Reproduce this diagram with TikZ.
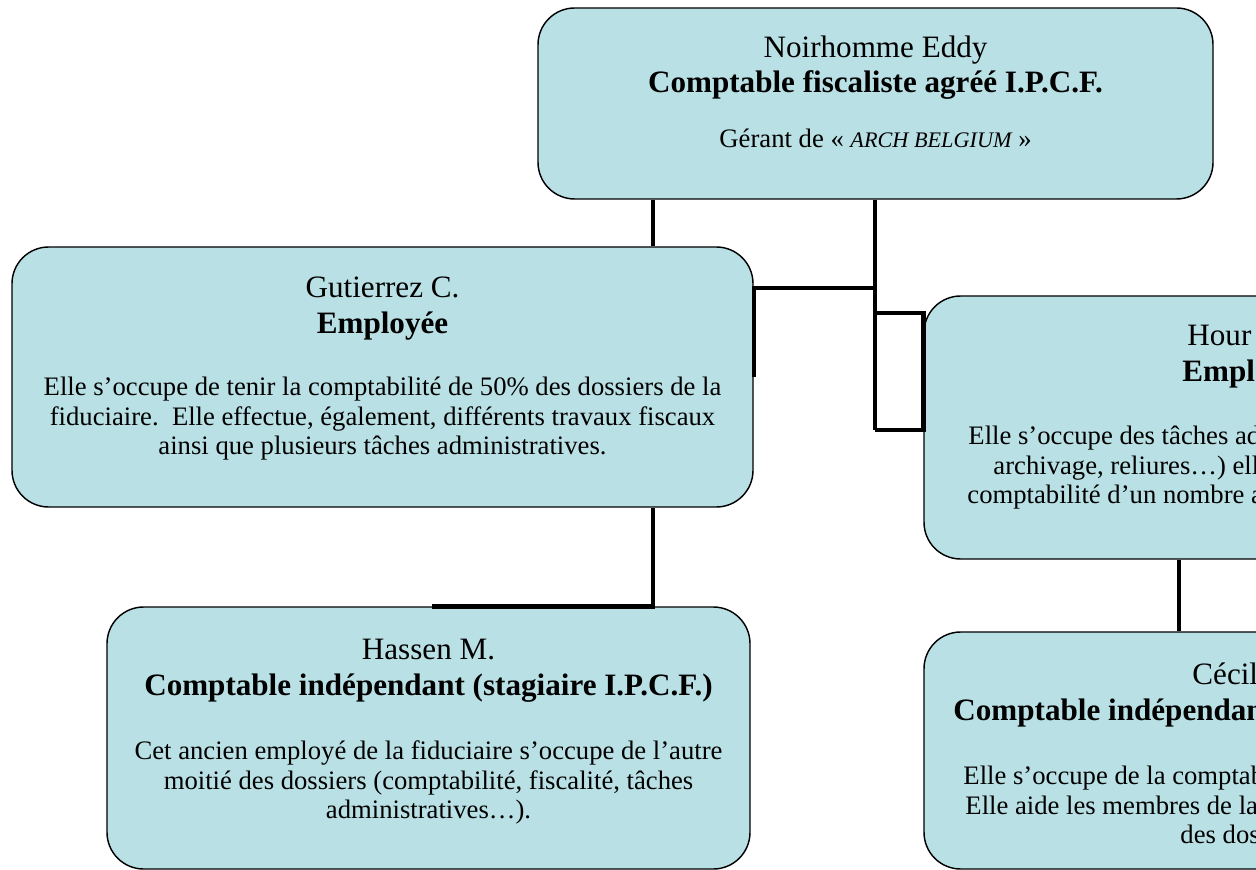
\documentclass[tikz,border=0pt]{standalone}
\usepackage{fontspec}
\setmainfont{Liberation Serif}
\usetikzlibrary{fit}
\definecolor{boxfill}{RGB}{185,224,228}
\begin{document}
\begin{tikzpicture}[x=0.45pt,y=-0.45pt,
  box/.style={draw=black, line width=0.65pt, fill=boxfill, rounded corners=16.5pt, inner sep=0pt},
  conn/.style={draw=black, line width=2pt},
  ttl/.style={font=\fontsize{14}{16}\selectfont, anchor=base, inner sep=0pt},
  rl/.style={font=\fontsize{14}{16}\selectfont\bfseries, anchor=base, inner sep=0pt},
  bdy/.style={font=\fontsize{12}{13.5}\selectfont, anchor=base, inner sep=0pt},
]
\useasboundingbox (0,0) rectangle (1256,870);
\clip (0,0) rectangle (1256,870);

% boxes
\node[box, fit={(538,8) (1213,199)}] (bTop) {};
\node[box, fit={(12,247) (753,507)}] (bGut) {};
\node[box, fit={(924,296) (1500,559)}] (bHou) {};
\node[box, fit={(107,607) (750,869)}] (bHas) {};
\node[box, fit={(924,632) (1500,869)}] (bCec) {};

% helper coordinates
\coordinate (xa) at (653,0);
\coordinate (xd) at (432,0);
\coordinate (xe) at (1179,0);
\coordinate (k1) at (0,377);
\coordinate (j1) at (875,288);
\coordinate (j2) at (875,313);
\coordinate (j3) at (875,430);

% connectors
\draw[conn] (bTop.south -| xa) -- (bGut.north -| xa);
\draw[conn] (bTop.south -| j1) -- (j3);
\draw[conn] (bGut.east |- k1) -- (bGut.east |- j1) -- (j1);
\draw[conn] (j2) -- (bHou.west |- j2) -- (bHou.west |- j3) -- (j3);
\draw[conn] (bGut.south -| xa) -- (bHas.north -| xa) -- (bHas.north -| xd);
\draw[conn] (bHou.south -| xe) -- (bCec.north -| xe);

% top box text
\node[ttl] (t1) at (875.5,58) {Noirhomme Eddy};
\node[rl] (t2) at (875.5,93) {Comptable fiscaliste agréé I.P.C.F.};
\node[bdy] (t3) at (875.5,148) {Gérant de « {\fontsize{10}{12}\selectfont\itshape ARCH BELGIUM} »};

% Gutierrez
\node[ttl] (g1) at (382.5,298) {Gutierrez C.};
\node[rl] (g2) at (382.5,334) {Employée};
\node[bdy] (g3) at (382.5,396) {Elle s’occupe de tenir la comptabilité de 50\% des dossiers de la};
\node[bdy] (g4) at (382.5,426) {fiduciaire.\ \ Elle effectue, également, différents travaux fiscaux};
\node[bdy] (g5) at (382.5,455) {ainsi que plusieurs tâches administratives.};

% Hour... (cut off at the right edge)
\node[ttl, anchor=base west] (h1) at (1187,346) {Hour};
\node[rl, anchor=base west] (h2) at (1182,382) {Empl};
\node[bdy, anchor=base west] (h3) at (968,445) {Elle s’occupe des tâches ad};
\node[bdy, anchor=base west] (h4) at (993,475) {archivage, reliures…) ell};
\node[bdy, anchor=base west] (h5) at (967,504) {comptabilité d’un nombre a};

% Hassen
\node[ttl] (s1) at (428.5,659) {Hassen M.};
\node[rl] (s2) at (428.5,695) {Comptable indépendant (stagiaire I.P.C.F.)};
\node[bdy] (s3) at (428.5,759) {Cet ancien employé de la fiduciaire s’occupe de l’autre};
\node[bdy] (s4) at (428.5,789) {moitié des dossiers (comptabilité, fiscalité, tâches};
\node[bdy] (s5) at (428.5,818) {administratives…).};

% Cecile (cut off at the right edge)
\node[ttl, anchor=base west] (c1) at (1192,684) {Cécil};
\node[rl, anchor=base west] (c2) at (953,720) {Comptable indépendan};
\node[bdy, anchor=base west] (c3) at (963,784) {Elle s’occupe de la comptab};
\node[bdy, anchor=base west] (c4) at (965,814) {Elle aide les membres de la};
\node[bdy, anchor=base west] (c5) at (1180,843) {des dos};
\end{tikzpicture}
\end{document}
